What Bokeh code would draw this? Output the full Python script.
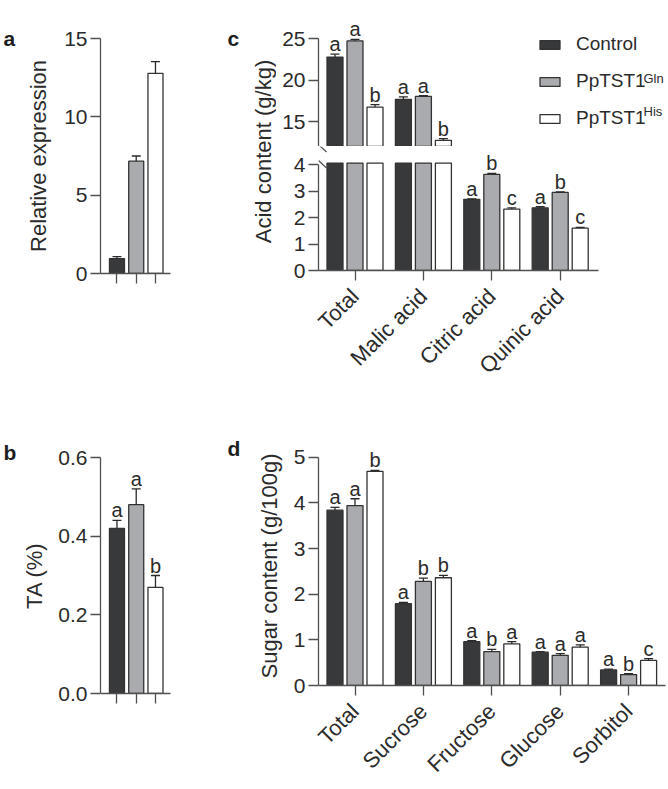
import math
import numpy as np
from bokeh.plotting import figure
from bokeh.layouts import row, column
from bokeh.models import (Range1d, FixedTicker, Label, Legend, LegendItem, Arrow,
                          NumeralTickFormatter)
from bokeh.core.properties import value
from bokeh.embed import file_html
from bokeh.resources import INLINE

# ---------------- data ----------------
groups = ["Control", "PpTST1Gln", "PpTST1His"]

expr_mean = [0.95, 7.17, 12.78]
expr_err = [0.13, 0.33, 0.74]

ta_mean = [0.42, 0.48, 0.27]
ta_err = [0.02, 0.04, 0.03]
ta_letters = ["a", "a", "b"]

acid_cats = ["Total", "Malic acid", "Citric acid", "Quinic acid"]
acid_control = [22.8, 17.7, 2.69, 2.37]
acid_control_err = [0.35, 0.3, 0.02, 0.04]
acid_gln = [24.75, 18.05, 3.63, 2.95]
acid_gln_err = [0.2, 0.08, 0.04, 0.02]
acid_his = [16.75, 12.75, 2.32, 1.6]
acid_his_err = [0.3, 0.2, 0.05, 0.03]
acid_letters_control = ["a", "a", "a", "a"]
acid_letters_gln = ["a", "a", "b", "b"]
acid_letters_his = ["b", "b", "c", "c"]

sugar_cats = ["Total", "Sucrose", "Fructose", "Glucose", "Sorbitol"]
sugar_control = [3.84, 1.79, 0.96, 0.73, 0.34]
sugar_control_err = [0.06, 0.03, 0.02, 0.01, 0.02]
sugar_gln = [3.94, 2.28, 0.74, 0.66, 0.24]
sugar_gln_err = [0.15, 0.07, 0.05, 0.04, 0.02]
sugar_his = [4.69, 2.36, 0.91, 0.84, 0.55]
sugar_his_err = [0.02, 0.05, 0.05, 0.05, 0.04]
sugar_letters_control = ["a", "a", "a", "a", "a"]
sugar_letters_gln = ["a", "b", "b", "a", "b"]
sugar_letters_his = ["b", "b", "a", "a", "c"]

# ---------------- style ----------------
FONT = "Liberation Sans"
TXT = "#2b2b2b"
AX = "#505050"
FILLS = ["#38393b", "#a9abae", "#ffffff"]
EDGE = "#333333"
LET_OFF = -10
BREAK_HIGH = 12.0
LOW_PX = 27.1
BREAK_LOW = 110 / LOW_PX


def mkfig(w, h, xr, yr, bl, br, bt, bb, **kw):
    p = figure(width=w, height=h, x_range=Range1d(*xr), y_range=Range1d(*yr),
               output_backend="svg", toolbar_location=None,
               min_border_left=bl, min_border_right=br,
               min_border_top=bt, min_border_bottom=bb, **kw)
    p.outline_line_color = None
    p.background_fill_color = "white"
    p.border_fill_color = "white"
    if p.grid:
        p.grid.visible = False
    for ax in p.axis:
        ax.axis_line_color = AX
        ax.axis_line_width = 1.3
        ax.major_tick_line_color = AX
        ax.major_tick_line_width = 1.3
        ax.major_tick_in = 0
        ax.major_tick_out = 10
        ax.minor_tick_line_color = None
        ax.major_label_text_font = FONT
        ax.major_label_text_font_size = "21px"
        ax.major_label_text_color = TXT
        ax.major_label_standoff = 3
        ax.axis_label_text_font = FONT
        ax.axis_label_text_font_size = "22px"
        ax.axis_label_text_font_style = "normal"
        ax.axis_label_text_color = TXT
    return p


def blank(w, h, xr=(0, 1), yr=(0, 1)):
    p = figure(width=w, height=h, x_range=Range1d(*xr), y_range=Range1d(*yr),
               x_axis_type=None, y_axis_type=None, output_backend="svg",
               toolbar_location=None, min_border=0)
    p.outline_line_color = None
    p.grid.visible = False
    return p


def panel_letter(p, txt, x, y):
    p.add_layout(Label(x=x, y=y, x_units="screen", y_units="screen", text=txt,
                       text_font=FONT, text_font_size="21px", text_font_style="bold",
                       text_color="#1e1e1e", text_baseline="alphabetic", text_align="left"))


def letters_glyph(p, xs, ys, letters):
    p.text(x=xs, y=ys, text=letters, text_font=value(FONT), text_font_size="20px",
           text_color=TXT, text_align="center", text_baseline="alphabetic",
           y_offset=LET_OFF)


def err_glyphs(p, xs, means, errs, cap, letters=None):
    ends = [m + e for m, e in zip(means, errs)]
    p.segment(x0=xs, y0=means, x1=xs, y1=ends, line_color="#2a2a2a", line_width=1.3)
    p.scatter(x=xs, y=ends, marker="dash", size=cap, line_color="#2a2a2a", line_width=1.3)
    if letters is not None:
        letters_glyph(p, xs, ends, letters)


def bars_with_err(p, xs, means, errs, fill, width, cap, letters=None):
    r = p.vbar(x=xs, top=means, bottom=0, width=width, fill_color=fill,
               line_color=EDGE, line_width=1.3)
    err_glyphs(p, xs, means, errs, cap, letters)
    return r


def pick(seq, idx):
    return [seq[i] for i in idx]


def brk(p, x0, y0, x1, y1):
    p.add_layout(Arrow(end=None, x_start=x0, y_start=y0, x_end=x1, y_end=y1,
                       start_units="screen", end_units="screen",
                       line_color=AX, line_width=1.2))


# ---------------- left strip with panel letters a, b ----------------
lstrip = blank(16, 788)
panel_letter(lstrip, "a", 3, 788 - 38)
panel_letter(lstrip, "b", 3, 788 - 452)

# ---------------- panel a ----------------
xa = list(range(len(groups)))
fa = mkfig(184, 390, (-0.855, 2.78), (0, 15), 84, 30, 38, 117)
fa.yaxis.ticker = FixedTicker(ticks=[0, 5, 10, 15])
fa.yaxis.bounds = (0, 15)
fa.yaxis.axis_label = "Relative expression"
fa.yaxis.axis_label_standoff = 10
fa.xaxis.ticker = FixedTicker(ticks=xa)
fa.xaxis.major_label_overrides = {i: "" for i in xa}
fa.xaxis.major_label_standoff = 0
bars_with_err(fa, xa, expr_mean, expr_err, FILLS, 0.78, 9)

# ---------------- panel b ----------------
fb = mkfig(184, 398, (-0.855, 2.78), (0, 0.6), 84, 30, 67, 95)
fb.yaxis.ticker = FixedTicker(ticks=[0, 0.2, 0.4, 0.6])
fb.yaxis.formatter = NumeralTickFormatter(format="0.0")
fb.yaxis.axis_label = "TA (%)"
fb.yaxis.axis_label_standoff = 8
fb.xaxis.ticker = FixedTicker(ticks=xa)
fb.xaxis.major_label_overrides = {i: "" for i in xa}
fb.xaxis.major_label_standoff = 0
bars_with_err(fb, xa, ta_mean, ta_err, FILLS, 0.78, 9, ta_letters)

# ---------------- panel c ----------------
PXU = 68.4
XL = -36.5 / PXU
OFF = 20.0 / PXU
BW = 16.0 / PXU
FW = 350
xc = np.arange(len(acid_cats))
acid_series = [(acid_control, acid_control_err, acid_letters_control),
               (acid_gln, acid_gln_err, acid_letters_gln),
               (acid_his, acid_his_err, acid_letters_his)]

fcl = blank(76, 390)
fcl.add_layout(Label(x=63, y=239, x_units="screen", y_units="screen",
                     text="Acid content (g/kg)", angle=math.pi / 2,
                     text_align="center", text_baseline="middle",
                     text_font=FONT, text_font_size="22px", text_color=TXT))
panel_letter(fcl, "c", 27, 390 - 38)

# upper segment
up_top = 25 + (38.3 - 20) / 8.24
fcu = mkfig(392, 146, (XL, XL + FW / PXU), (BREAK_HIGH, up_top), 42, 0, 20, 0)
fcu.xaxis.visible = False
fcu.yaxis.ticker = FixedTicker(ticks=[15, 20, 25])
fcu.yaxis.bounds = (BREAK_HIGH, 25)
renderers = []
for k, (m, e, L) in enumerate(acid_series):
    xs = list(xc + (k - 1) * OFF)
    idx = [i for i, v in enumerate(m) if v > BREAK_HIGH]
    renderers.append(bars_with_err(fcu, pick(xs, idx), pick(m, idx), pick(e, idx),
                                   FILLS[k], BW, 9, pick(L, idx)))

legend = Legend(items=[LegendItem(label="Control", renderers=[renderers[0]]),
                       LegendItem(label="PpTST1", renderers=[renderers[1]]),
                       LegendItem(label="PpTST1", renderers=[renderers[2]])],
                location=(219, 17), glyph_width=25, glyph_height=11,
                label_height=20, spacing=15, padding=0, margin=0,
                label_standoff=14, border_line_color=None,
                background_fill_alpha=0,
                label_text_font=FONT, label_text_font_size="19px",
                label_text_color=TXT)
fcu.add_layout(legend)
for sup, yy in (("Gln", 68), ("His", 35)):
    fcu.add_layout(Label(x=325, y=yy, x_units="screen", y_units="screen", text=sup,
                         text_font=FONT, text_font_size="13px", text_color=TXT,
                         text_baseline="alphabetic"))

# lower segment (its frame starts right under the upper one; bars are cut at the break)
low_top = (273 - 146) / LOW_PX
fclow = mkfig(392, 244, (XL, XL + FW / PXU), (0, low_top), 42, 0, 0, 117)
fclow.yaxis.ticker = FixedTicker(ticks=[0, 1, 2, 3, 4])
fclow.yaxis.bounds = (0, 4)
fclow.xaxis.bounds = (XL, XL + 280 / PXU)
fclow.xaxis.ticker = FixedTicker(ticks=list(xc))
fclow.xaxis.major_label_overrides = {int(i): c for i, c in zip(xc, acid_cats)}
fclow.xaxis.major_label_orientation = math.pi / 4
fclow.xaxis.major_label_text_font_size = "22px"
fclow.xaxis.major_label_standoff = 12
for k, (m, e, L) in enumerate(acid_series):
    xs = list(xc + (k - 1) * OFF)
    fclow.vbar(x=xs, top=list(np.minimum(m, BREAK_LOW)), bottom=0, width=BW,
               fill_color=FILLS[k], line_color=EDGE, line_width=1.3)
    idx = [i for i, v in enumerate(m) if v < BREAK_LOW]
    err_glyphs(fclow, pick(xs, idx), pick(m, idx), pick(e, idx), 9, pick(L, idx))
# break marks on the axis
brk(fclow, 0, 126, 8, 118.5)
brk(fclow, 0, 110, 8, 102.5)

# ---------------- panel d ----------------
dstrip = blank(45, 398)
panel_letter(dstrip, "d", 27, 398 - (448 - 390))

xd = np.arange(len(sugar_cats))
sugar_series = [(sugar_control, sugar_control_err, sugar_letters_control),
                (sugar_gln, sugar_gln_err, sugar_letters_gln),
                (sugar_his, sugar_his_err, sugar_letters_his)]
fd = mkfig(423, 398, (XL, XL + FW / PXU), (0, 246 / 47.0), 73, 0, 56, 96)
fd.yaxis.ticker = FixedTicker(ticks=[0, 1, 2, 3, 4, 5])
fd.yaxis.bounds = (0, 5)
fd.xaxis.bounds = (XL, XL + 347 / PXU)
fd.yaxis.axis_label = "Sugar content (g/100g)"
fd.yaxis.axis_label_standoff = 9
fd.xaxis.ticker = FixedTicker(ticks=list(xd))
fd.xaxis.major_label_overrides = {int(i): c for i, c in zip(xd, sugar_cats)}
fd.xaxis.major_label_orientation = math.pi / 4
fd.xaxis.major_label_text_font_size = "22px"
fd.xaxis.major_label_standoff = 12
for k, (m, e, L) in enumerate(sugar_series):
    xs = list(xd + (k - 1) * OFF)
    bars_with_err(fd, xs, m, e, FILLS[k], BW, 9, L)

left = row(lstrip, column(fa, fb))
right = column(row(fcl, column(fcu, row(fclow))),
               row(dstrip, column(fd)))
layout = row(left, right)

open("out.html", "w").write(file_html(layout, INLINE))
